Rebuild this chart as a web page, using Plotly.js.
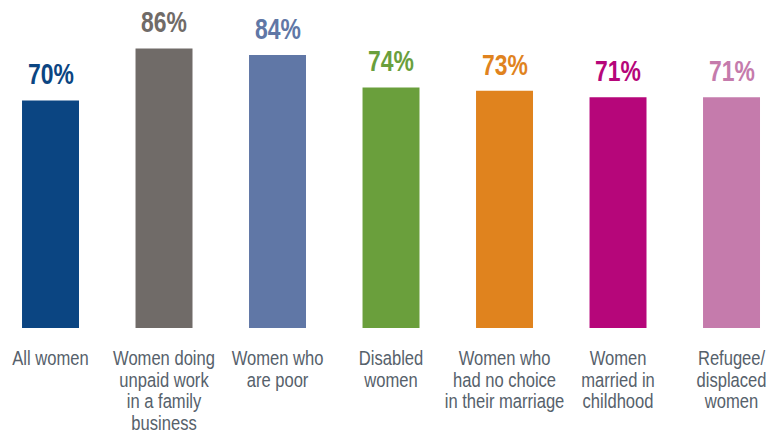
<!DOCTYPE html>
<html>
<head>
<meta charset="utf-8">
<script src="https://cdn.plot.ly/plotly-3.0.1.min.js"></script>
<style>html,body{margin:0;padding:0;background:#fff;}#chart{width:770px;height:436px;}</style>
</head>
<body>
<div id="chart"></div>
<script>
const categories = [
  "All women",
  "Women doing<br>unpaid work<br>in a family<br>business",
  "Women who<br>are poor",
  "Disabled<br>women",
  "Women who<br>had no choice<br>in their marriage",
  "Women<br>married in<br>childhood",
  "Refugee/<br>displaced<br>women"
];
const values = [70, 86, 84, 74, 73, 71, 71];
const valueLabels = ["70%", "86%", "84%", "74%", "73%", "71%", "71%"];
const colors = ["#0b4582", "#706b68", "#6077a6", "#6a9f3c", "#e0831e", "#b6067a", "#c57bac"];

const idx = categories.map((c, i) => i);

const trace = {
  type: 'bar',
  x: idx,
  y: values,
  width: 0.502,
  marker: {color: colors, line: {width: 0}},
  hoverinfo: 'none'
};

const annotations = values.map((v, i) => ({
  x: i, y: v, xref: 'x', yref: 'y',
  text: '<b>' + valueLabels[i] + '</b>',
  showarrow: false,
  yanchor: 'bottom',
  yshift: 8,
  font: {family: '"Liberation Sans", Arial, sans-serif', size: 29, color: colors[i]}
}));

const layout = {
  width: 770, height: 436,
  margin: {l: 0, r: 0, t: 0, b: 108, pad: 0},
  paper_bgcolor: '#ffffff', plot_bgcolor: '#ffffff',
  showlegend: false,
  xaxis: {
    range: [-0.445, 6.339],
    tickmode: 'array', tickvals: idx, ticktext: categories,
    tickangle: 0,
    ticklabeloverflow: 'allow',
    showgrid: false, zeroline: false, showline: false, ticks: '',
    ticklabelstandoff: 17,
    tickfont: {family: '"Liberation Sans", Arial, sans-serif', size: 19.5, color: '#56616b'},
    fixedrange: true
  },
  yaxis: {
    range: [0, 100.9],
    visible: false, showgrid: false, zeroline: false, fixedrange: true
  },
  annotations: annotations
};

function squeeze(sel, sx) {
  document.querySelectorAll(sel).forEach(el => {
    const bb = el.getBBox();
    const cx = bb.x + bb.width / 2;
    const t = el.getAttribute('transform') || '';
    el.setAttribute('transform', t + ' translate(' + cx + ',0) scale(' + sx + ',1) translate(' + (-cx) + ',0)');
  });
}

Plotly.newPlot('chart', [trace], layout, {displayModeBar: false, staticPlot: true}).then(() => {
  document.querySelectorAll('.xtick text tspan.line').forEach(ts => {
    const dy = ts.getAttribute('dy');
    if (dy && dy.endsWith('em')) {
      const v = parseFloat(dy);
      ts.setAttribute('dy', (v * 1.1 / 1.3) + 'em');
    }
  });
  squeeze('.xtick text', 0.85);
  squeeze('.annotation-text', 0.79);
});
</script>
</body>
</html>
